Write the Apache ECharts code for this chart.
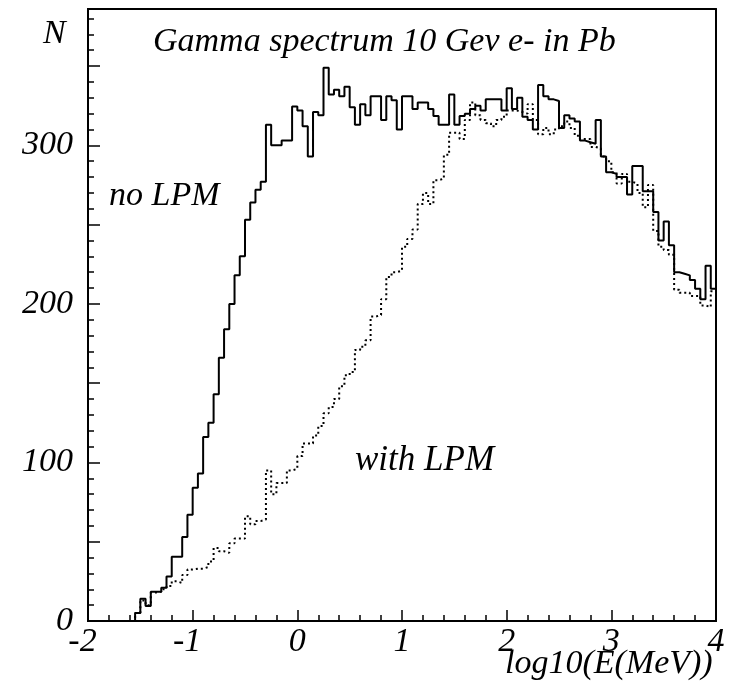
<!DOCTYPE html>
<html><head><meta charset="utf-8">
<script src="https://cdn.jsdelivr.net/npm/echarts@6/dist/echarts.min.js"></script>
<style>html,body{margin:0;padding:0;background:#fff}.c{width:732px;height:682px}</style>
</head><body><div id="a" class="c"></div>
<script>
// histogram bins: 120 bins of width 0.05 from -2 to 4 (log10(E/MeV))
const binStart = -2, binWidth = 0.05;
const noLPM = [
  0,0,0,0,0,0,0,0,0,5,
  14,9.5,18.5,18.5,21,28,40.6,40.6,53,67,
  84,93,116,125,143,166,184,200,218,230,
  253,264,272,277,313,300,300,303,303,324.5,
  322,312,293,321,319,349,332,335,331,337,
  324,313,326,319,331,331,316,331,328.5,310,
  331,331,323,327,327,323,318.5,313,313,332,
  313,318.5,320,323,325,322,329,329,329,322,
  336,323,330,318,316,310,338,331,329,328,
  311,319,317,315,303,302,301,316,293,283,
  282,280,280,269,287,287,271,271,258,240,
  252,237,220,219,218,215,209.5,203,224,209.5
];
const withLPM = [
  0,0,0,0,0,0,0,0,0,5,
  13,10,18,18.5,20,22,25,24,29,32.5,
  33,33,34,37.5,46,44,43,49,52,52,
  66,61,63,64,95,80,87,87,95,96,
  104,112,112,117,123,131,135,140,148,155,
  157,171,173,177,192,193,203,217,220,221,
  236,241,247,263,270,263,278,279,294,308,
  308,304,316,327,319,316,314,312,316,318,
  322,322,321,320,326,316,307,311,307,310,
  312,315,311,306,304,304,299,298,293,290,
  283,276,282,277,276,270,261,275,246,236,
  234,231,209,207,207,205,205,199,198,208
];
const xTickValues = [-2, -1, 0, 1, 2, 3, 4];
const yLabelValues = [0, 100, 200, 300];
const titleText = 'Gamma spectrum 10 Gev e- in Pb';
const label1 = 'no LPM';
const label2 = 'with LPM';
const xName = 'log10(E(MeV))';
const yName = 'N';

function toSteps(arr) {
  const p = arr.map((v, i) => [binStart + i * binWidth, v]);
  p.push([binStart + arr.length * binWidth, arr[arr.length - 1]]);
  return p;
}
const FONT = '"Liberation Serif", "Times New Roman", serif';
function txt(text, left, top, size) {
  return {text: text, left: left, top: top, padding: 0, itemGap: 0,
    textStyle: {fontFamily: FONT, fontStyle: 'italic', fontWeight: 'normal', fontSize: size, color: '#000'}};
}
function build() {
  const labelStyle = {fontFamily: FONT, fontStyle: 'italic', fontSize: 34, color: '#000'};
  const al = {show: true, onZero: false, lineStyle: {color: '#000', width: 2}};
  const xMin = xTickValues[0], xMax = xTickValues[xTickValues.length - 1];
  const g = {left: 88, right: 16, top: 9, bottom: 61};
  const majTick = len => ({show: true, inside: true, length: len, lineStyle: {color: '#000', width: 1.5}});
  return {
    animation: false,
    backgroundColor: '#fff',
    title: [
      txt(titleText, 153, 25, 34),
      txt(yName, 43, 17, 34),
      txt(label1, 109, 179, 34),
      txt(label2, 355, 443, 35),
      txt(xName, 505, 647, 34)
    ],
    grid: [Object.assign({}, g), Object.assign({}, g)],
    xAxis: [
      {gridIndex: 0, type: 'value', min: xMin, max: xMax, interval: 1, position: 'bottom', axisLine: al,
        axisTick: majTick(11),
        minorTick: {show: true, splitNumber: 5, length: 6, lineStyle: {color: '#000', width: 1.5}},
        splitLine: {show: false},
        axisLabel: {margin: 4, formatter: x => x < 0 ? '{n|' + x + '}' : '{p|' + x + '}',
          rich: {n: Object.assign({padding: [0, 11, 0, 0]}, labelStyle), p: Object.assign({}, labelStyle)}}},
      {gridIndex: 0, type: 'value', min: xMin, max: xMax, interval: 1, position: 'top', axisLine: al,
        axisTick: {show: false}, axisLabel: {show: false}, splitLine: {show: false}},
      {gridIndex: 1, type: 'value', min: xMin, max: xMax, interval: 1, position: 'bottom', axisLine: al,
        axisTick: majTick(11),
        minorTick: {show: true, splitNumber: 5, length: 6, lineStyle: {color: '#000', width: 1.5}},
        axisLabel: {show: false}, splitLine: {show: false}}
    ],
    yAxis: [
      {gridIndex: 0, type: 'value', min: 0, max: 386, interval: 50, position: 'left', axisLine: al,
        axisTick: majTick(12), splitLine: {show: false},
        axisLabel: Object.assign({margin: 15, formatter: y => yLabelValues.indexOf(y) >= 0 ? String(y) : ''}, labelStyle)},
      {gridIndex: 0, type: 'value', min: 0, max: 386, interval: 50, position: 'right', axisLine: al,
        axisTick: {show: false}, axisLabel: {show: false}, splitLine: {show: false}},
      {gridIndex: 1, type: 'value', min: 0, max: 386, interval: 50, position: 'left', axisLine: al,
        axisTick: majTick(12), axisLabel: {show: false}, splitLine: {show: false}},
      {gridIndex: 1, type: 'value', min: 0, max: 386, interval: 10, position: 'left', axisLine: al,
        axisTick: majTick(6), axisLabel: {show: false}, splitLine: {show: false}}
    ],
    series: [
      {type: 'line', xAxisIndex: 0, yAxisIndex: 0, step: 'end', showSymbol: false, data: toSteps(noLPM),
        lineStyle: {color: '#000', width: 2}},
      {type: 'line', xAxisIndex: 0, yAxisIndex: 0, step: 'end', showSymbol: false, data: toSteps(withLPM),
        lineStyle: {color: '#000', width: 2, type: [2, 3]}}
    ]
  };
}
echarts.init(document.getElementById('a')).setOption(build());
</script>
</body></html>
